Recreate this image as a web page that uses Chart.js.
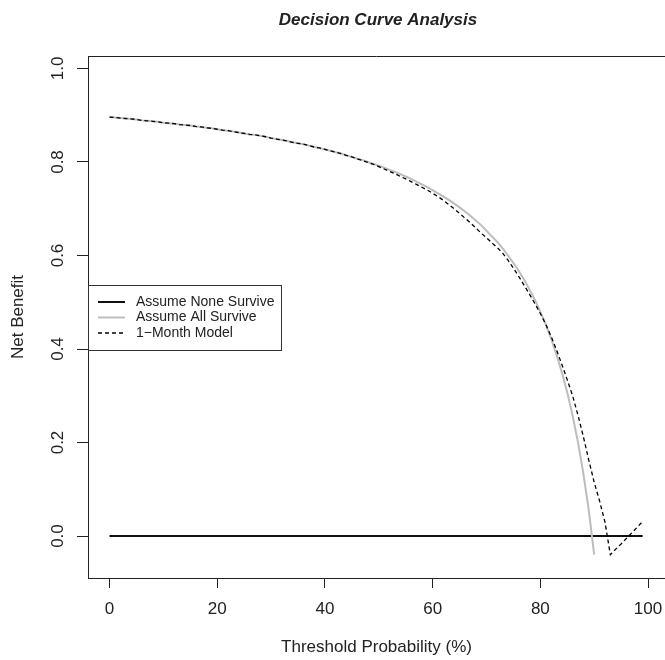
<!DOCTYPE html>
<html>
<head>
<meta charset="utf-8">
<title>Decision Curve Analysis</title>
<script src="https://cdn.jsdelivr.net/npm/chart.js@4.4.1/dist/chart.umd.min.js"></script>
<style>
  body { margin: 0; background: #fff; }
  #wrap { width: 665px; height: 660px; }
</style>
</head>
<body>
<div id="wrap"><canvas id="dca" width="665" height="660"></canvas></div>
<script>
// threshold probability (%)
const thresholds = [
  0, 1, 2, 3, 4, 5, 6, 7, 8, 9, 10, 11, 12, 13, 14, 15, 16, 17, 18, 19,
  20, 21, 22, 23, 24, 25, 26, 27, 28, 29, 30, 31, 32, 33, 34, 35, 36, 37, 38, 39,
  40, 41, 42, 43, 44, 45, 46, 47, 48, 49, 50, 51, 52, 53, 54, 55, 56, 57, 58, 59,
  60, 61, 62, 63, 64, 65, 66, 67, 68, 69, 70, 71, 72, 73, 74, 75, 76, 77, 78, 79,
  80, 81, 82, 83, 84, 85, 86, 87, 88, 89, 90, 91, 92, 93, 94, 95, 96, 97, 98, 99
];

const noneSurvive = [
  0, 0, 0, 0, 0, 0, 0, 0, 0, 0, 0, 0, 0, 0, 0, 0, 0, 0, 0, 0,
  0, 0, 0, 0, 0, 0, 0, 0, 0, 0, 0, 0, 0, 0, 0, 0, 0, 0, 0, 0,
  0, 0, 0, 0, 0, 0, 0, 0, 0, 0, 0, 0, 0, 0, 0, 0, 0, 0, 0, 0,
  0, 0, 0, 0, 0, 0, 0, 0, 0, 0, 0, 0, 0, 0, 0, 0, 0, 0, 0, 0,
  0, 0, 0, 0, 0, 0, 0, 0, 0, 0, 0, 0, 0, 0, 0, 0, 0, 0, 0, 0
];

// cut off below the plot once it drops past -0.05
const allSurvive = [
  0.896, 0.895, 0.894, 0.893, 0.892, 0.891, 0.889, 0.888, 0.887, 0.886,
  0.884, 0.883, 0.882, 0.880, 0.879, 0.878, 0.876, 0.875, 0.873, 0.872,
  0.870, 0.868, 0.867, 0.865, 0.863, 0.861, 0.859, 0.858, 0.856, 0.854,
  0.851, 0.849, 0.847, 0.845, 0.842, 0.840, 0.838, 0.835, 0.832, 0.830,
  0.827, 0.824, 0.821, 0.818, 0.814, 0.811, 0.807, 0.804, 0.800, 0.796,
  0.792, 0.788, 0.783, 0.779, 0.774, 0.769, 0.764, 0.758, 0.752, 0.746,
  0.740, 0.733, 0.726, 0.719, 0.711, 0.703, 0.694, 0.685, 0.675, 0.665,
  0.653, 0.641, 0.629, 0.615, 0.600, 0.584, 0.567, 0.548, 0.527, 0.505,
  0.480, 0.453, 0.422, 0.388, 0.350, 0.307, 0.257, 0.200, 0.133, 0.055,
  -0.040, null, null, null, null, null, null, null, null, null
];

const monthModel = [
  0.896, 0.895, 0.894, 0.893, 0.892, 0.891, 0.889, 0.888, 0.887, 0.886,
  0.884, 0.883, 0.882, 0.880, 0.879, 0.878, 0.876, 0.875, 0.873, 0.872,
  0.870, 0.868, 0.867, 0.865, 0.863, 0.861, 0.859, 0.858, 0.856, 0.854,
  0.851, 0.849, 0.847, 0.845, 0.842, 0.840, 0.838, 0.835, 0.832, 0.830,
  0.827, 0.824, 0.821, 0.818, 0.814, 0.811, 0.807, 0.803, 0.799, 0.795,
  0.790, 0.785, 0.780, 0.775, 0.769, 0.764, 0.758, 0.752, 0.746, 0.740,
  0.733, 0.726, 0.718, 0.709, 0.700, 0.690, 0.680, 0.670, 0.659, 0.648,
  0.638, 0.627, 0.617, 0.605, 0.590, 0.573, 0.555, 0.536, 0.517, 0.497,
  0.476, 0.453, 0.427, 0.398, 0.367, 0.334, 0.300, 0.258, 0.212, 0.162,
  0.115, 0.075, 0.030, -0.040, -0.028, -0.017, -0.005, 0.007, 0.019, 0.031
];

const xTicks = [0, 20, 40, 60, 80, 100];
const yTicks = [0.0, 0.2, 0.4, 0.6, 0.8, 1.0];
const seriesNames = ["Assume None Survive", "Assume All Survive", "1\u2212Month Model"];

const FONT = "'Liberation Sans', Arial, Helvetica, sans-serif";
const INK = "#222";

function toPoints(values) {
  return thresholds.map((t, i) => ({ x: t, y: values[i] }));
}

// frame, rotated y tick labels, main title and legend box (R base-plot look)
const basePlot = {
  id: "basePlot",
  afterDraw(chart) {
    const ctx = chart.ctx;
    const area = chart.chartArea;
    const yScale = chart.scales.y;
    ctx.save();

    // top border of the box (left/bottom come from the axes)
    ctx.strokeStyle = INK;
    ctx.lineWidth = 1;
    ctx.beginPath();
    ctx.moveTo(area.left, area.top + 0.5);
    ctx.lineTo(area.right, area.top + 0.5);
    ctx.stroke();

    // y tick labels, rotated like R's las = 0
    ctx.fillStyle = INK;
    ctx.font = "17px " + FONT;
    ctx.textAlign = "center";
    ctx.textBaseline = "middle";
    yScale.ticks.forEach((tick) => {
      const py = yScale.getPixelForValue(tick.value);
      ctx.save();
      ctx.translate(58, py);
      ctx.rotate(-Math.PI / 2);
      ctx.fillText(tick.value.toFixed(1), 0, 0);
      ctx.restore();
    });

    // main title
    ctx.font = "italic bold 17px " + FONT;
    ctx.fillText("Decision Curve Analysis", 378, 20);

    // legend
    const bx = 88, by = 285, bw = 193, bh = 65;
    ctx.fillStyle = "#fff";
    ctx.fillRect(bx, by, bw, bh);
    ctx.strokeStyle = "#333";
    ctx.lineWidth = 1;
    ctx.strokeRect(bx + 0.5, by + 0.5, bw, bh);
    const rows = [302, 317.5, 333];
    const order = [2, 1, 0];
    ctx.font = "14px " + FONT;
    ctx.textAlign = "left";
    rows.forEach((ry, i) => {
      const ds = chart.data.datasets[order[i]];
      ctx.strokeStyle = ds.borderColor;
      ctx.lineWidth = ds.borderWidth;
      ctx.setLineDash(ds.borderDash || []);
      ctx.beginPath();
      ctx.moveTo(98, ry);
      ctx.lineTo(125, ry);
      ctx.stroke();
      ctx.setLineDash([]);
      ctx.fillStyle = INK;
      ctx.fillText(ds.label, 136, ry);
    });

    ctx.restore();
  }
};

function mainEvent() {
  const target = document.querySelector("#dca");

  const chart = new Chart(target, {
    type: "line",
    data: {
      datasets: [
        {
          label: seriesNames[2],
          data: toPoints(monthModel),
          borderColor: "#000",
          borderWidth: 1.3,
          borderDash: [4, 3]
        },
        {
          label: seriesNames[1],
          data: toPoints(allSurvive),
          borderColor: "#bdbdbd",
          borderWidth: 2
        },
        {
          label: seriesNames[0],
          data: toPoints(noneSurvive),
          borderColor: "#111",
          borderWidth: 2
        }
      ]
    },
    options: {
      responsive: false,
      animation: false,
      events: [],
      layout: { padding: { top: 56, left: 0, right: 0, bottom: 0 } },
      elements: {
        point: { radius: 0 },
        line: { tension: 0, fill: false }
      },
      plugins: {
        legend: { display: false },
        title: { display: false },
        tooltip: { enabled: false }
      },
      scales: {
        x: {
          type: "linear",
          min: -4,
          max: 103.15,
          afterBuildTicks: (scale) => {
            scale.ticks = xTicks.map((v) => ({ value: v }));
          },
          afterFit: (scale) => {
            scale.height = 82;
            scale.paddingLeft = 0;
            scale.paddingRight = 0;
          },
          grid: {
            drawOnChartArea: false,
            drawTicks: true,
            tickLength: 10,
            tickColor: INK
          },
          border: { display: true, color: INK, width: 1 },
          ticks: {
            color: INK,
            padding: 11,
            maxRotation: 0,
            font: { family: FONT, size: 17 },
            callback: (v) => String(v)
          },
          title: {
            display: true,
            text: "Threshold Probability (%)",
            color: INK,
            font: { family: FONT, size: 17 },
            padding: { top: 0, bottom: 2 }
          }
        },
        y: {
          type: "linear",
          min: -0.0898,
          max: 1.0267,
          afterBuildTicks: (scale) => {
            scale.ticks = yTicks.map((v) => ({ value: v }));
          },
          afterFit: (scale) => {
            scale.width = 88;
            scale.paddingTop = 0;
            scale.paddingBottom = 0;
          },
          grid: {
            drawOnChartArea: false,
            drawTicks: true,
            tickLength: 11,
            tickColor: INK
          },
          border: { display: true, color: INK, width: 1 },
          ticks: {
            color: "rgba(0,0,0,0)",
            font: { family: FONT, size: 14 }
          },
          title: {
            display: true,
            text: "Net Benefit",
            color: INK,
            font: { family: FONT, size: 17 },
            padding: { top: 8, bottom: 0 }
          }
        }
      }
    },
    plugins: [basePlot]
  });
  return chart;
}

document.addEventListener("DOMContentLoaded", () => mainEvent());
</script>
</body>
</html>
